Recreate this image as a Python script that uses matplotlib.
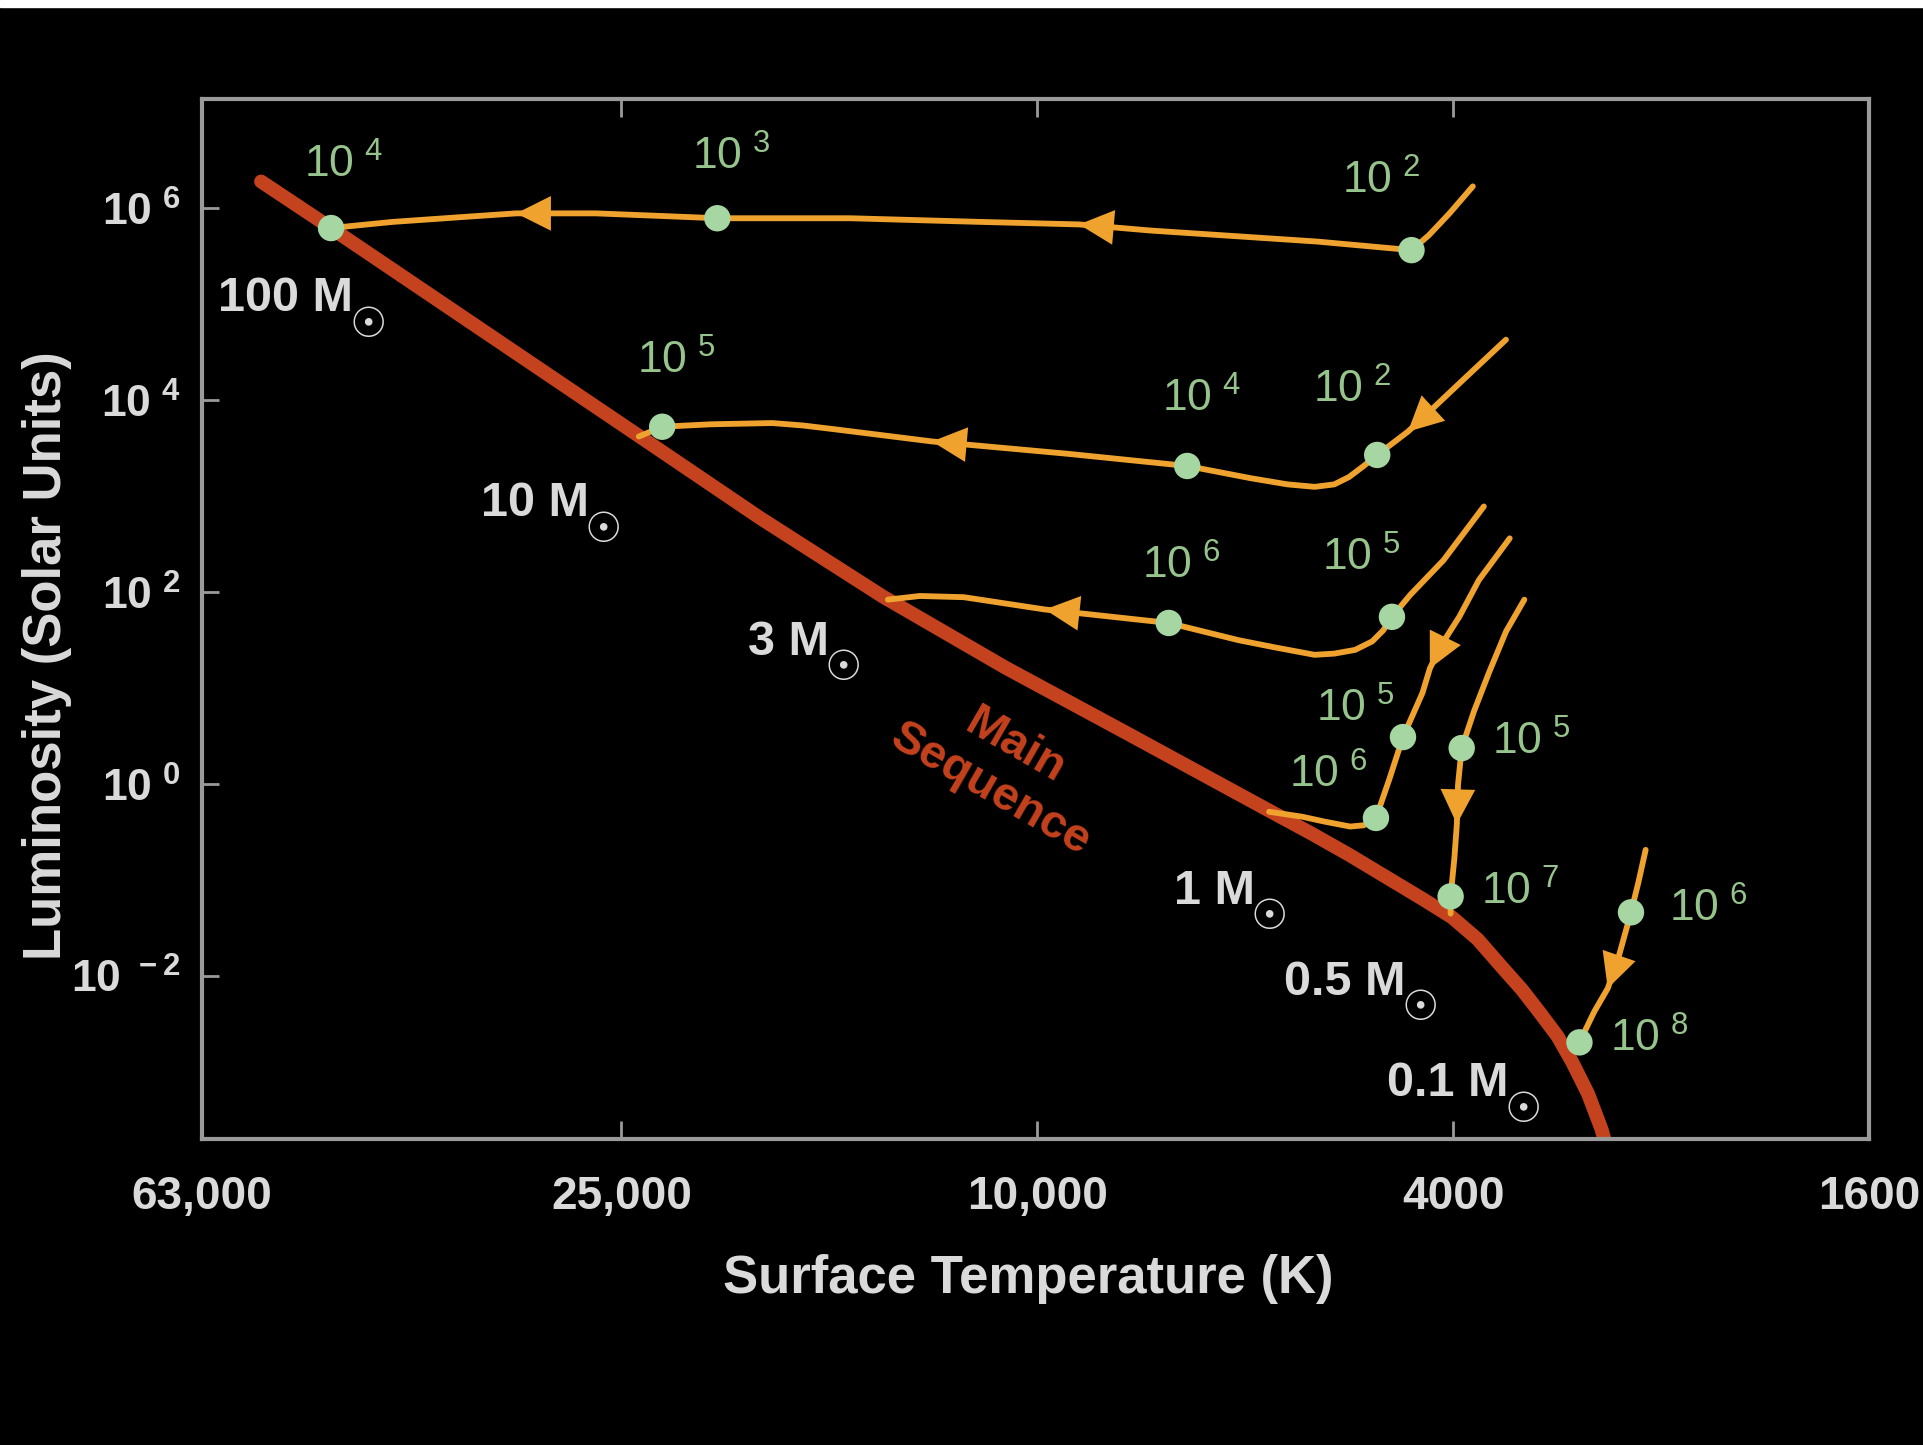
import matplotlib
matplotlib.use("Agg")
import matplotlib.pyplot as plt
from matplotlib.ticker import FixedLocator, FixedFormatter, NullLocator

plt.rcParams['font.family'] = ['Liberation Sans', 'DejaVu Sans']
plt.rcParams['font.weight'] = 'bold'
plt.rcParams['mathtext.default'] = 'regular'

# zero-age main sequence: surface temperature (K), luminosity (solar units)
ms_temp = [55300, 47400, 24100, 18410, 14050, 10722, 8183, 6000, 5457, 5031, 4640, 4279,
           4010, 3789, 3589, 3437, 3310, 3178, 3077, 2971, 2884, 2853]
ms_lum = [1.91e6, 6.25e5, 4320, 593.3, 90.2, 16.37, 3.341, 0.531, 0.3037, 0.1841, 0.1084, 0.0638,
          0.04106, 0.02417, 0.01229, 0.00723, 0.00426, 0.002363, 0.001274, 0.000593, 0.000253, 0.000167]

# pre-main-sequence tracks (temperature K, luminosity L_sun)
track_100_temp = [3830, 4032, 4221, 4384, 5397, 7795, 9120, 11316, 15113, 20236, 23200, 26440, 31520,
                  35500, 41410, 47400]
track_100_lum = [1.70e6, 8.89e5, 5.24e5, 3.68e5, 4.52e5, 5.89e5, 6.82e5, 7.24e5, 7.91e5, 7.91e5, 8.4e5,
                 8.89e5, 8.89e5, 8.14e5, 7.24e5, 6.25e5]

track_10_temp = [3560, 3893, 4267, 4419, 4728, 4871, 5031, 5197, 5427, 5760, 6246, 7186, 9368, 12610,
                 15650, 16750, 17920, 20510, 22850, 24060]
track_10_lum = [42940, 17240, 6722, 4722, 2700, 2072, 1590, 1332, 1256, 1332, 1544, 2072, 2781, 3733,
                5008, 5472, 5803, 5635, 5313, 4199]

track_3_temp = [3738, 4087, 4395, 4577, 4665, 4780, 4964, 5197, 5427, 5918, 6418, 7484, 9834, 11755,
                12955, 13900]
track_3_lum = [784.6, 214.9, 94.3, 55.5, 40.2, 30.8, 25.1, 22.96, 22.3, 26.6, 31.7, 47.9, 66.2, 88.9,
               91.5, 83.8]

track_1_temp = [3531, 3779, 3946, 4098, 4210, 4279, 4467, 4602, 4741, 4871, 5018, 5311, 5576, 6000]
track_1_lum = [365.0, 134.2, 55.5, 29.1, 16.1, 8.96, 3.10, 1.14, 0.445, 0.373, 0.362, 0.4076, 0.458,
               0.516]

track_05_temp = [3419, 3560, 3698, 3820, 3925, 3957, 3967, 3989, 4022, 4022]
track_05_lum = [83.8, 39.0, 14.34, 5.76, 2.38, 0.985, 0.384, 0.1685, 0.0677, 0.0448]

track_01_temp = [2617, 2660, 2703, 2777, 2845, 2931, 3028]
track_01_lum = [0.207, 0.0936, 0.0462, 0.0160, 0.00745, 0.00426, 0.00204]

# vertex index of each arrowhead tip (pointing away from the previous vertex)
track_arrows = [[6, 12], [3, 13], [12], [4], [6], [4]]

# age markers along the tracks, in years (10^exp)
age_temp = [47400, 20236, 4384, 22850, 7186, 4728, 7484, 4577, 4741, 4467, 4022, 3925, 3028, 2703]
age_lum = [6.25e5, 7.91e5, 3.68e5, 5313, 2072, 2700, 47.9, 55.5, 0.445, 3.10, 0.0677, 2.38, 0.00204, 0.0462]
age_exp = [4, 3, 2, 5, 4, 2, 6, 5, 6, 5, 7, 5, 8, 6]
age_label_offset = [(9, 45), (10, 44), (-22, 50), (10, 47), (10, 48), (-18, 47), (9, 41), (-22, 42),
                    (-34, 31), (-34, 20), (50, 3), (50, 4), (50, 2), (56, 2)]

mass_labels = ['100 M', '10 M', '3 M', '1 M', '0.5 M', '0.1 M']
mass_label_pos = [(60780, 84470), (34090, 620), (18910, 22.3), (7404, 0.0568), (5806, 0.00643), (4627, 0.000559)]

temp_ticks = [63000, 25000, 10000, 4000, 1600]
temp_tick_labels = ['63,000', '25,000', '10,000', '4000', '1600']
lum_ticks = [1e-2, 1e0, 1e2, 1e4, 1e6]
lum_tick_labels = [r'10$^{\ -2}$', r'10$^{\ 0}$', r'10$^{\ 2}$', r'10$^{\ 4}$', r'10$^{\ 6}$']

GRID_GRAY = '#9a9a9a'
TEXT_GRAY = '#dadada'
MS_RED = '#c4421e'
TRACK_ORANGE = '#f0a22e'
DOT_GREEN = '#a6d6a2'
DOT_TEXT = '#97c48c'

fig = plt.figure(figsize=(19.23, 14.45), dpi=100, facecolor='black')
ax = fig.add_axes([0.105, 0.2118, 0.8669, 0.7197], facecolor='black')
ax.set_xscale('log')
ax.set_yscale('log')
ax.set_xlim(63000, 1600)
ax.set_ylim(10 ** -3.697, 10 ** 7.141)

ax.plot(ms_temp, ms_lum, color=MS_RED, lw=10, solid_capstyle='round',
        solid_joinstyle='round', zorder=2)

tracks = [(track_100_temp, track_100_lum), (track_10_temp, track_10_lum),
          (track_3_temp, track_3_lum), (track_1_temp, track_1_lum),
          (track_05_temp, track_05_lum), (track_01_temp, track_01_lum)]
for (temp, lum), arrows in zip(tracks, track_arrows):
    ax.plot(temp, lum, color=TRACK_ORANGE, lw=4.2, solid_joinstyle='round',
            solid_capstyle='round', zorder=3)
    for i in arrows:
        ax.annotate('', xy=(temp[i], lum[i]), xytext=(temp[i - 1], lum[i - 1]),
                    arrowprops=dict(arrowstyle='-|>,head_length=1.0,head_width=0.5',
                                    mutation_scale=25, color=TRACK_ORANGE, lw=0,
                                    shrinkA=0, shrinkB=0),
                    zorder=4)

ax.scatter(age_temp, age_lum, s=19 ** 2, color=DOT_GREEN, edgecolors='none', zorder=5)
for t, l, e, off in zip(age_temp, age_lum, age_exp, age_label_offset):
    ax.annotate(r'10$^{\ %d}$' % e, (t, l), xytext=off, textcoords='offset points',
                ha='center', va='center', fontsize=32, fontweight='normal',
                color=DOT_TEXT, zorder=6)

# mass labels, with a large solar symbol hung below the end of each one
for lab, (t, l) in zip(mass_labels, mass_label_pos):
    txt = ax.text(t, l, lab, ha='left', va='baseline', fontsize=35, color=TEXT_GRAY, zorder=6)
    ax.annotate('☉', xy=(1, 0), xycoords=txt, xytext=(-3, -11), textcoords='offset points',
                ha='left', va='baseline', fontsize=30, fontweight='bold',
                family='DejaVu Sans', color=TEXT_GRAY, zorder=6)

ax.text(10780, 1.466, 'Main\nSequence', color=MS_RED, fontsize=34, rotation=-30,
        rotation_mode='anchor', ha='center', va='center', multialignment='center',
        linespacing=1.2, zorder=6)

ax.xaxis.set_major_locator(FixedLocator(temp_ticks))
ax.xaxis.set_major_formatter(FixedFormatter(temp_tick_labels))
ax.xaxis.set_minor_locator(NullLocator())
ax.yaxis.set_major_locator(FixedLocator(lum_ticks))
ax.yaxis.set_major_formatter(FixedFormatter(lum_tick_labels))
ax.yaxis.set_minor_locator(NullLocator())
ax.tick_params(axis='x', direction='in', top=True, bottom=True, length=13, width=2,
               color=GRID_GRAY, labelsize=33, labelcolor=TEXT_GRAY, pad=26)
ax.tick_params(axis='y', direction='in', left=True, right=False, length=12, width=2,
               color=GRID_GRAY, labelsize=32, labelcolor=TEXT_GRAY, pad=15)
for s in ax.spines.values():
    s.set_color(GRID_GRAY)
    s.set_linewidth(3)

ax.set_xlabel('Surface Temperature (K)', fontsize=38, fontweight='bold', color=TEXT_GRAY, va='center')
ax.xaxis.set_label_coords(0.4955, -0.1346)
ax.set_ylabel('Luminosity (Solar Units)', fontsize=38, fontweight='bold', color=TEXT_GRAY, va='center')
ax.yaxis.set_label_coords(-0.093, 0.4644)

# thin white strip along the top edge of the original image
fig.add_artist(plt.Rectangle((0, 1 - 7 / 1445), 1, 7 / 1445, transform=fig.transFigure,
                             color='white', zorder=10))

fig.savefig('out.png', dpi=100, facecolor='black')
